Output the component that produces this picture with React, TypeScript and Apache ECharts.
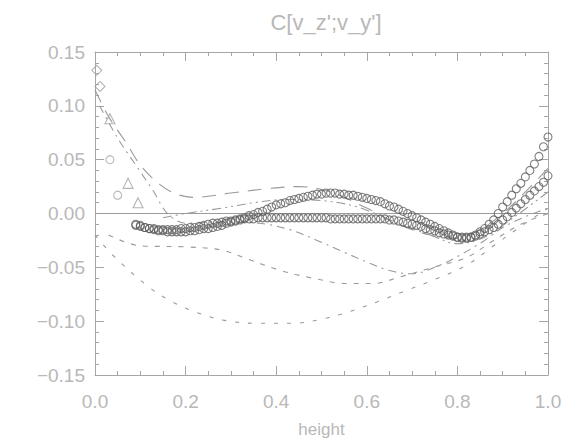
import React, { useEffect, useRef } from "react";
import * as echarts from "echarts";

// Sampling grid of the two circle-marker series (every 0.01 in height, from 0.09)
const circleStart = 0.09;
const circleStep = 0.01;

const circlesUpper = [
  -0.010, -0.011, -0.013, -0.014, -0.015, -0.016, -0.016, -0.017, -0.017, -0.017,
  -0.017, -0.017, -0.016, -0.016, -0.015, -0.014, -0.014, -0.013, -0.012, -0.011,
  -0.009, -0.008, -0.007, -0.005, -0.004, -0.002, -0.001, 0.001, 0.002, 0.004,
  0.006, 0.008, 0.009, 0.010, 0.012, 0.013, 0.014, 0.015, 0.016, 0.017,
  0.018, 0.018, 0.019, 0.019, 0.019, 0.018, 0.018, 0.017, 0.017, 0.016,
  0.015, 0.014, 0.013, 0.012, 0.011, 0.009, 0.007, 0.006, 0.004, 0.002,
  0.000, -0.002, -0.004, -0.006, -0.008, -0.010, -0.012, -0.014, -0.016, -0.018,
  -0.020, -0.022, -0.023, -0.023, -0.022, -0.020, -0.017, -0.014, -0.010, -0.006,
  0.000, 0.006, 0.011, 0.017, 0.023, 0.028, 0.034, 0.040, 0.046, 0.053,
  0.062, 0.071,
];

const circlesLower = [
  -0.011, -0.012, -0.013, -0.014, -0.014, -0.015, -0.015, -0.015, -0.015, -0.015,
  -0.014, -0.014, -0.013, -0.013, -0.012, -0.011, -0.010, -0.009, -0.009, -0.008,
  -0.007, -0.007, -0.006, -0.006, -0.005, -0.005, -0.005, -0.004, -0.004, -0.004,
  -0.004, -0.004, -0.004, -0.004, -0.004, -0.004, -0.004, -0.004, -0.004, -0.004,
  -0.004, -0.004, -0.004, -0.005, -0.005, -0.005, -0.005, -0.005, -0.005, -0.005,
  -0.005, -0.005, -0.005, -0.005, -0.005, -0.005, -0.006, -0.006, -0.007, -0.008,
  -0.009, -0.010, -0.011, -0.012, -0.014, -0.015, -0.016, -0.018, -0.019, -0.020,
  -0.021, -0.022, -0.022, -0.022, -0.022, -0.021, -0.019, -0.017, -0.015, -0.013,
  -0.010, -0.006, -0.003, 0.001, 0.005, 0.009, 0.013, 0.017, 0.021, 0.025,
  0.029, 0.035, 0.042,
];

// Curves: [height, C] pairs
const longDash = [
  [0.0, 0.115], [0.03, 0.09], [0.07, 0.065], [0.1, 0.045], [0.14, 0.028],
  [0.18, 0.018], [0.22, 0.015], [0.3, 0.019], [0.38, 0.023], [0.45, 0.025],
  [0.52, 0.02], [0.6, 0.005], [0.67, -0.01], [0.74, -0.02], [0.8, -0.023],
  [0.85, -0.015], [0.9, 0.0], [0.95, 0.02], [1.0, 0.042],
];

const dashDot = [
  [0.01, 0.1], [0.05, 0.07], [0.09, 0.045], [0.13, 0.02], [0.16, 0.0],
  [0.2, -0.009], [0.28, -0.008], [0.36, -0.009], [0.43, -0.015], [0.49, -0.025],
  [0.55, -0.036], [0.6, -0.045], [0.65, -0.053], [0.7, -0.056], [0.75, -0.05],
  [0.8, -0.04], [0.86, -0.025], [0.9, -0.013], [0.95, -0.003], [1.0, 0.005],
];

const dashDotDot = [
  [0.15, -0.004], [0.2, 0.0], [0.28, 0.005], [0.35, 0.01], [0.42, 0.013],
  [0.5, 0.012], [0.58, 0.006], [0.66, -0.008], [0.74, -0.02], [0.8, -0.028],
  [0.86, -0.022], [0.92, -0.005], [1.0, 0.02],
];

const shortDash = [
  [0.03, -0.02], [0.1, -0.03], [0.2, -0.031], [0.28, -0.034], [0.335, -0.042],
  [0.41, -0.053], [0.48, -0.06], [0.556, -0.065], [0.614, -0.065], [0.673, -0.059],
  [0.746, -0.05], [0.82, -0.041], [0.88, -0.025], [0.94, -0.01], [1.0, 0.0],
];

const dotted = [
  [0.0, -0.02], [0.04, -0.039], [0.115, -0.067], [0.166, -0.081], [0.225, -0.092],
  [0.283, -0.099], [0.358, -0.102], [0.437, -0.102], [0.512, -0.097], [0.57, -0.09],
  [0.63, -0.081], [0.69, -0.071], [0.746, -0.062], [0.82, -0.048], [0.88, -0.03],
  [0.94, -0.012], [1.0, 0.005],
];

const trianglePoints = [[0.033, 0.088], [0.073, 0.028], [0.095, 0.01]];
const diamondPoints = [[0.004, 0.133], [0.011, 0.118]];
const smallCirclePoints = [[0.033, 0.05], [0.05, 0.017]];

const zeroLine = [[0.0, 0.0], [1.0, 0.0]];

const xTicks = [0, 0.2, 0.4, 0.6, 0.8, 1.0];

const AXIS_COLOR = "#a6a6a6";
const LABEL_COLOR = "#b8b8b8";
const CURVE_COLOR = "#9a9a9a";
const FONT = "'Liberation Sans', 'DejaVu Sans', sans-serif";

function fmtY(v: number): string {
  const s = Math.abs(v).toFixed(2);
  return v < -1e-9 ? "\u2212" + s : s;
}

function curve(name: string, data: number[][], dash: number[] | "solid") {
  return {
    name,
    type: "line",
    data,
    smooth: 0.35,
    showSymbol: false,
    symbol: "none",
    lineStyle: { color: CURVE_COLOR, width: 1.1, type: dash },
    z: 2,
  };
}

function markers(name: string, data: number[][], symbol: string, size: number, color: string) {
  return {
    name,
    type: "scatter",
    data,
    symbol,
    symbolSize: size,
    itemStyle: { color: "rgba(0,0,0,0)", borderColor: color, borderWidth: 1.1 },
    z: 3,
  };
}

export default function App() {
  const ref = useRef<HTMLDivElement>(null);

  useEffect(() => {
    document.body.style.margin = "0";
    document.body.style.background = "#ffffff";
    if (!ref.current) return;
    const chart = echarts.init(ref.current, undefined, { renderer: "svg" });

    const upperData = circlesUpper.map((v, i) => [+(circleStart + i * circleStep).toFixed(2), v]);
    const lowerData = circlesLower.map((v, i) => [+(circleStart + i * circleStep).toFixed(2), v]);

    const baseX = {
      type: "value",
      min: 0,
      max: 1,
      interval: 0.2,
      axisLine: { show: true, onZero: false, lineStyle: { color: AXIS_COLOR, width: 1 } },
      axisTick: { show: true, inside: true, length: 9, lineStyle: { color: AXIS_COLOR } },
      minorTick: { show: true, splitNumber: 4, length: 4, lineStyle: { color: AXIS_COLOR } },
      splitLine: { show: false },
    };
    const baseY = {
      type: "value",
      min: -0.15,
      max: 0.15,
      interval: 0.05,
      axisLine: { show: true, onZero: false, lineStyle: { color: AXIS_COLOR, width: 1 } },
      axisTick: { show: true, inside: true, length: 9, lineStyle: { color: AXIS_COLOR } },
      minorTick: { show: true, splitNumber: 5, length: 4, lineStyle: { color: AXIS_COLOR } },
      splitLine: { show: false },
    };

    chart.setOption({
      animation: false,
      backgroundColor: "#ffffff",
      title: {
        text: "C[v_z';v_y']",
        left: 321,
        textAlign: "center",
        top: 6,
        textStyle: {
          color: LABEL_COLOR,
          fontFamily: FONT,
          fontSize: 22,
          fontWeight: "normal",
        },
      },
      grid: { left: 95, right: 21, top: 52, bottom: 70, outerBoundsMode: "none" },
      xAxis: [
        {
          ...baseX,
          position: "bottom",
          name: "height",
          nameLocation: "middle",
          nameGap: 46,
          nameTextStyle: { color: LABEL_COLOR, fontFamily: FONT, fontSize: 17 },
          axisLabel: {
            color: LABEL_COLOR,
            fontFamily: FONT,
            fontSize: 19,
            margin: 17,
            formatter: (v: number) => (xTicks.some((t) => Math.abs(t - v) < 1e-9) ? v.toFixed(1) : ""),
          },
        },
        { ...baseX, position: "top", axisLabel: { show: false } },
      ],
      yAxis: [
        {
          ...baseY,
          position: "left",
          axisLabel: {
            color: LABEL_COLOR,
            fontFamily: FONT,
            fontSize: 19,
            margin: 10,
            formatter: fmtY,
          },
        },
        { ...baseY, position: "right", axisLabel: { show: false } },
      ],
      series: [
        {
          name: "zero",
          type: "line",
          data: zeroLine,
          symbol: "none",
          lineStyle: { color: "#9c9c9c", width: 1.1, type: "solid" },
          z: 1,
        },
        curve("long dash", longDash, [14, 9]),
        curve("dash dot", dashDot, [8, 5, 2, 5]),
        curve("dash dot dot", dashDotDot, [9, 4, 2, 4, 2, 4]),
        curve("short dash", shortDash, [5, 7]),
        curve("dotted", dotted, [4, 9]),
        markers("circles upper", upperData, "circle", 8, "#5e5e5e"),
        markers("circles lower", lowerData, "circle", 8, "#5e5e5e"),
        markers("triangles", trianglePoints, "triangle", 10, "#a0a0a0"),
        markers("diamonds", diamondPoints, "diamond", 10, "#a0a0a0"),
        markers("small circles", smallCirclePoints, "circle", 8, "#a8a8a8"),
      ],
    });

    return () => chart.dispose();
  }, []);

  return <div ref={ref} style={{ width: 569, height: 445, background: "#ffffff" }} />;
}
